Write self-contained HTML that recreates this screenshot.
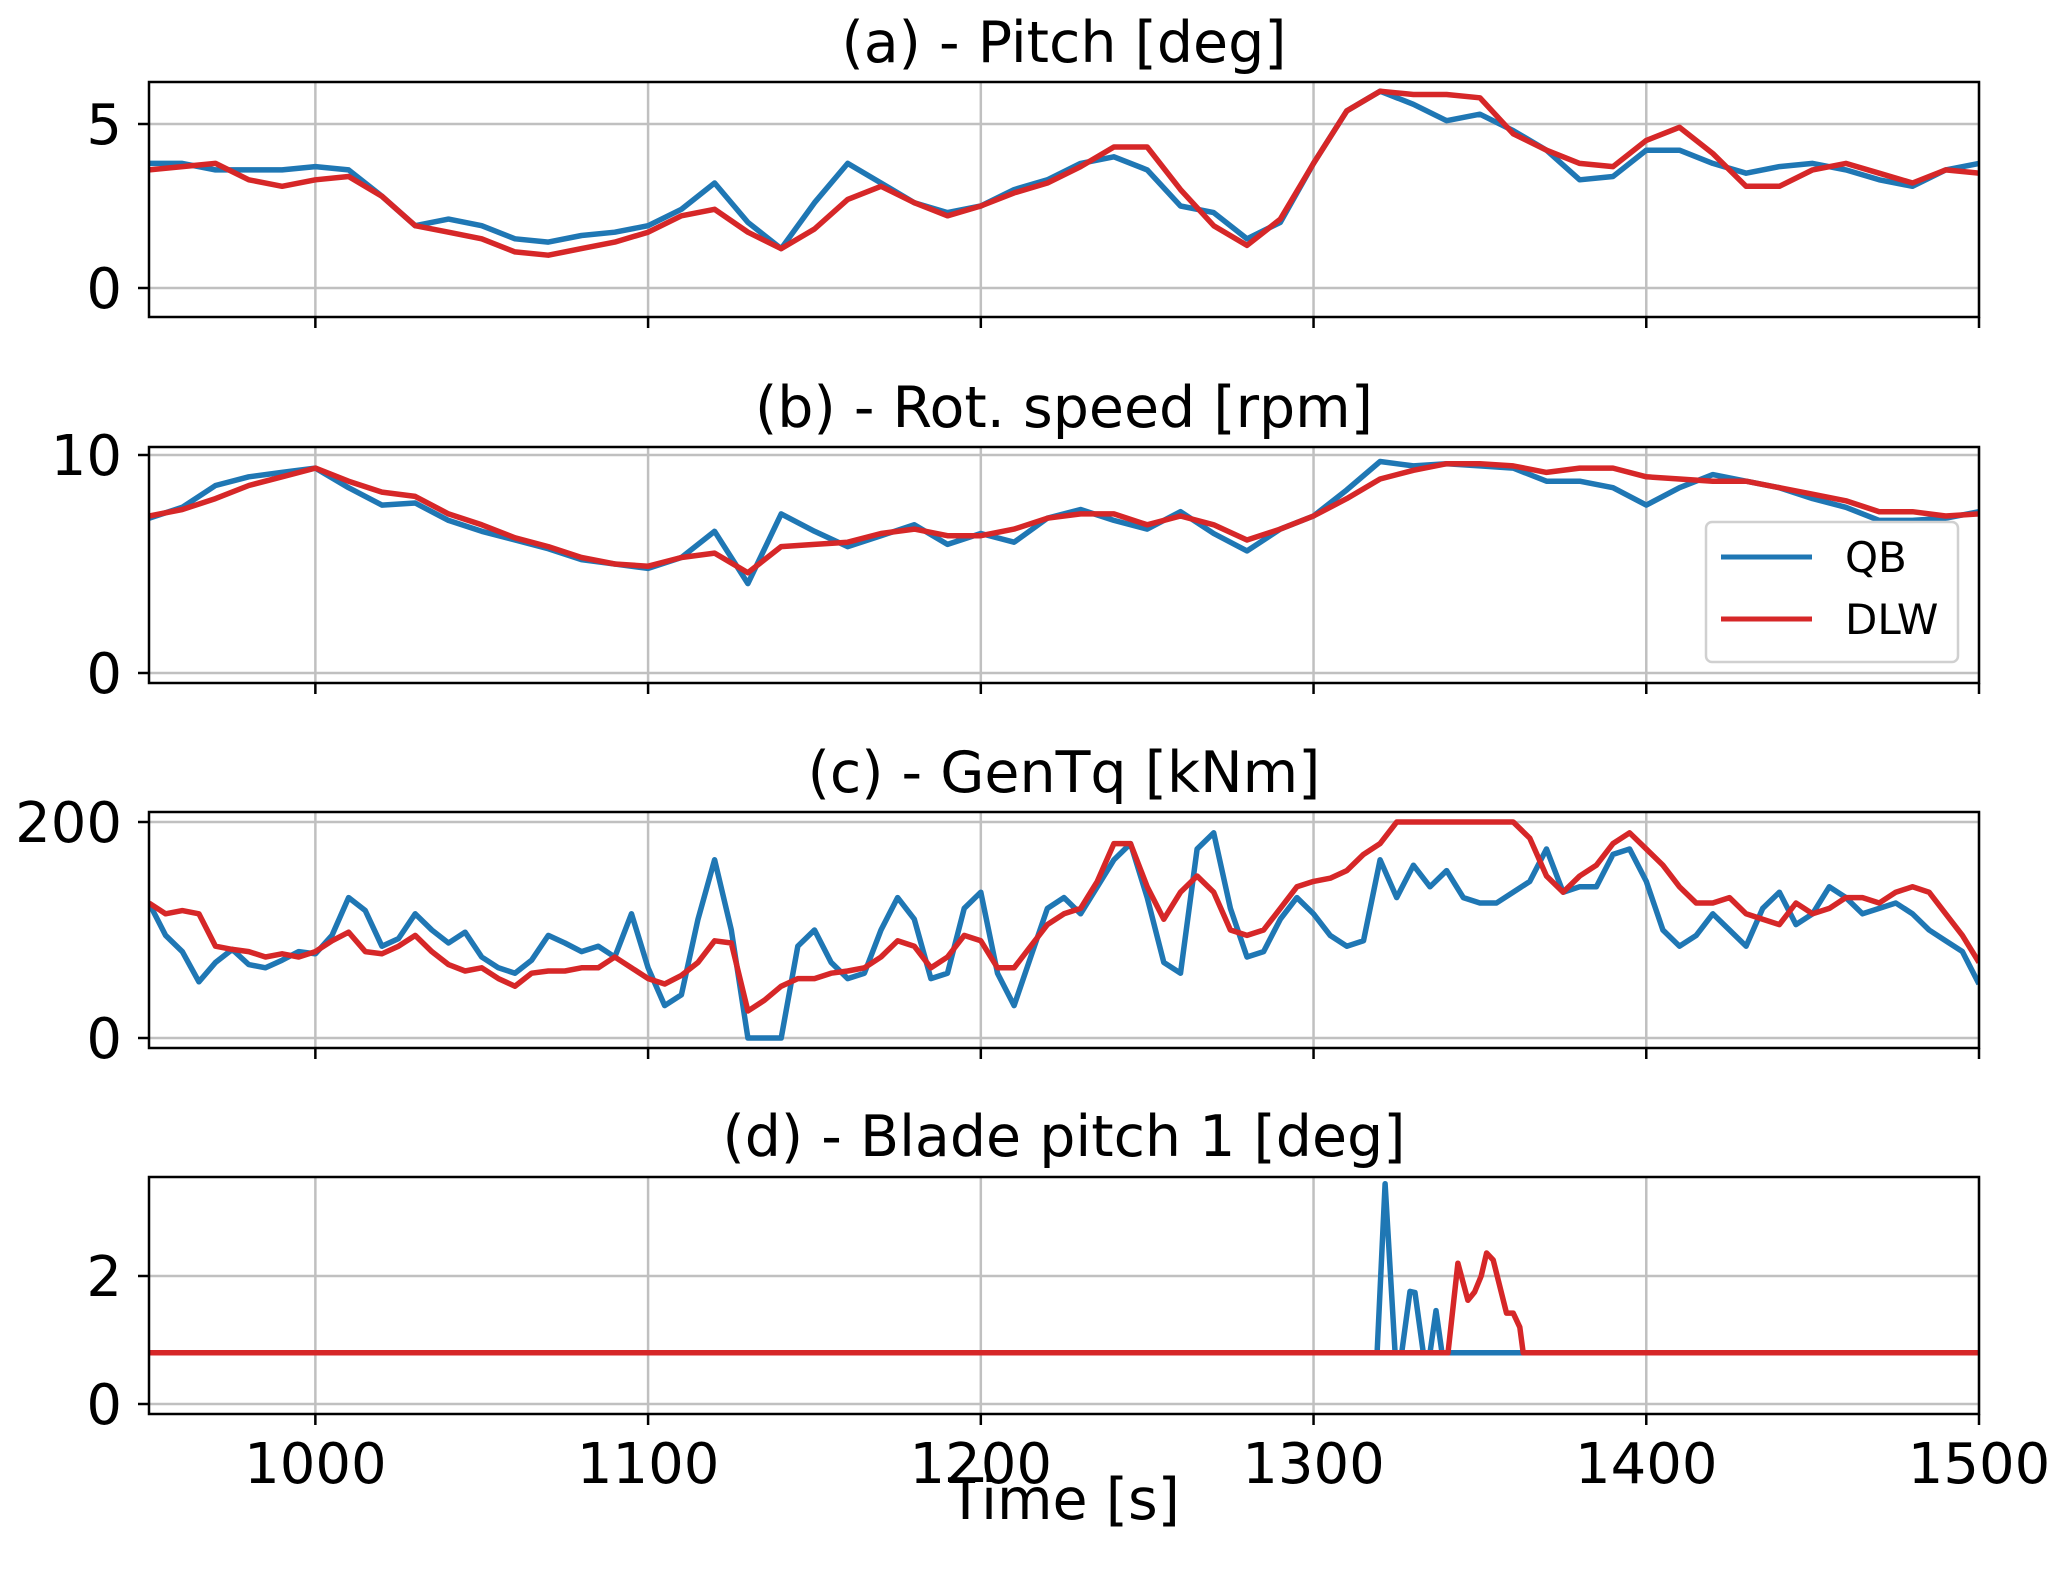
<!DOCTYPE html>
<html><head><meta charset="utf-8"><style>
html,body{margin:0;padding:0;background:#fff;}
svg{display:block;font-family:"DejaVu Sans","Liberation Sans",sans-serif;}
</style></head><body>
<svg id="fig" width="2067" height="1578" viewBox="0 0 2067 1578" xmlns="http://www.w3.org/2000/svg"></svg>
<script>
// ---- data ----
const pitchTime = [950,960,970,980,990,1000,1010,1020,1030,1040,1050,1060,1070,1080,1090,1100,1110,1120,1130,1140,1150,1160,1170,1180,1190,1200,1210,1220,1230,1240,1250,1260,1270,1280,1290,1300,1310,1320,1330,1340,1350,1360,1370,1380,1390,1400,1410,1420,1430,1440,1450,1460,1470,1480,1490,1500];
const pitchQB = [3.8,3.8,3.6,3.6,3.6,3.7,3.6,2.8,1.9,2.1,1.9,1.5,1.4,1.6,1.7,1.9,2.4,3.2,2.0,1.2,2.6,3.8,3.2,2.6,2.3,2.5,3.0,3.3,3.8,4.0,3.6,2.5,2.3,1.5,2.0,3.8,5.4,6.0,5.6,5.1,5.3,4.8,4.2,3.3,3.4,4.2,4.2,3.8,3.5,3.7,3.8,3.6,3.3,3.1,3.6,3.8];
const pitchDLW = [3.6,3.7,3.8,3.3,3.1,3.3,3.4,2.8,1.9,1.7,1.5,1.1,1.0,1.2,1.4,1.7,2.2,2.4,1.7,1.2,1.8,2.7,3.1,2.6,2.2,2.5,2.9,3.2,3.7,4.3,4.3,3.0,1.9,1.3,2.1,3.8,5.4,6.0,5.9,5.9,5.8,4.7,4.2,3.8,3.7,4.5,4.9,4.1,3.1,3.1,3.6,3.8,3.5,3.2,3.6,3.5];
const speedTime = pitchTime;
const speedQB = [7.1,7.6,8.6,9.0,9.2,9.4,8.5,7.7,7.8,7.0,6.5,6.1,5.7,5.2,5.0,4.8,5.3,6.5,4.1,7.3,6.5,5.8,6.3,6.8,5.9,6.4,6.0,7.1,7.5,7.0,6.6,7.4,6.4,5.6,6.6,7.2,8.4,9.7,9.5,9.6,9.5,9.4,8.8,8.8,8.5,7.7,8.5,9.1,8.8,8.5,8.0,7.6,7.0,7.0,7.1,7.4];
const speedDLW = [7.2,7.5,8.0,8.6,9.0,9.4,8.8,8.3,8.1,7.3,6.8,6.2,5.8,5.3,5.0,4.9,5.3,5.5,4.6,5.8,5.9,6.0,6.4,6.6,6.3,6.3,6.6,7.1,7.3,7.3,6.8,7.2,6.8,6.1,6.6,7.2,8.0,8.9,9.3,9.6,9.6,9.5,9.2,9.4,9.4,9.0,8.9,8.8,8.8,8.5,8.2,7.9,7.4,7.4,7.2,7.3];
const tqTime = [950,955,960,965,970,975,980,985,990,995,1000,1005,1010,1015,1020,1025,1030,1035,1040,1045,1050,1055,1060,1065,1070,1075,1080,1085,1090,1095,1100,1105,1110,1115,1120,1125,1130,1135,1140,1145,1150,1155,1160,1165,1170,1175,1180,1185,1190,1195,1200,1205,1210,1215,1220,1225,1230,1235,1240,1245,1250,1255,1260,1265,1270,1275,1280,1285,1290,1295,1300,1305,1310,1315,1320,1325,1330,1335,1340,1345,1350,1355,1360,1365,1370,1375,1380,1385,1390,1395,1400,1405,1410,1415,1420,1425,1430,1435,1440,1445,1450,1455,1460,1465,1470,1475,1480,1485,1490,1495,1500];
const tqQB = [125,95,80,52,70,82,68,65,72,80,78,95,130,118,85,92,115,100,88,98,75,65,60,72,95,88,80,85,75,115,65,30,40,110,165,100,0,0,0,85,100,70,55,60,100,130,110,55,60,120,135,60,30,75,120,130,115,140,165,180,130,70,60,175,190,120,75,80,110,130,115,95,85,90,165,130,160,140,155,130,125,125,135,145,175,135,140,140,170,175,145,100,85,95,115,100,85,120,135,105,115,140,130,115,120,125,115,100,90,80,50];
const tqDLW = [125,115,118,115,85,82,80,75,78,75,80,90,98,80,78,85,95,80,68,62,65,55,48,60,62,62,65,65,75,65,55,50,58,70,90,88,25,35,48,55,55,60,62,65,75,90,85,65,75,95,90,65,65,85,105,115,120,145,180,180,140,110,135,150,135,100,95,100,120,140,145,148,155,170,180,200,200,200,200,200,200,200,200,185,150,135,150,160,180,190,175,160,140,125,125,130,115,110,105,125,115,120,130,130,125,135,140,135,115,95,70];
const bladeQBTime = [950,1319.1,1321.5,1324.5,1326.5,1329,1330.5,1333,1335,1336.8,1338.6,1500];
const bladeQB = [0.8,0.8,3.44,0.8,0.8,1.76,1.74,0.8,0.8,1.46,0.8,0.8];
const bladeDLWTime = [950,1340.4,1343.4,1346.4,1348.4,1350.4,1352,1354,1358,1360,1362,1363,1500];
const bladeDLW = [0.8,0.8,2.2,1.62,1.75,2.0,2.36,2.25,1.42,1.42,1.2,0.8,0.8];
const xTicks = [1000,1100,1200,1300,1400,1500];

const NS = "http://www.w3.org/2000/svg";
const svg = document.getElementById('fig');
function el(tag, attrs, parent){const e=document.createElementNS(NS,tag);for(const k in attrs)e.setAttribute(k,attrs[k]);(parent||svg).appendChild(e);return e;}

const X0=149, X1=1979, T0=950, T1=1500;
const xs = t => X0 + (t-T0)*(X1-X0)/(T1-T0);
const TICKF=56, TITLEF=57;

const panels = [
 {key:'pitch', title:'(a) - Pitch [deg]', top:82, bot:317, v0:0, p0:288, v1:5, p1:124, yt:[0,5], ytl:['0','5'], series:[[pitchTime,pitchQB,'#1f77b4','qb'],[pitchTime,pitchDLW,'#d62728','dlw']], tb:62},
 {key:'rot-speed', title:'(b) - Rot. speed [rpm]', top:447, bot:683, v0:0, p0:673, v1:10, p1:455, yt:[0,10], ytl:['0','10'], series:[[speedTime,speedQB,'#1f77b4','qb'],[speedTime,speedDLW,'#d62728','dlw']], tb:427},
 {key:'gen-torque', title:'(c) - GenTq [kNm]', top:812, bot:1048, v0:0, p0:1038, v1:200, p1:822, yt:[0,200], ytl:['0','200'], series:[[tqTime,tqQB,'#1f77b4','qb'],[tqTime,tqDLW,'#d62728','dlw']], tb:792},
 {key:'blade-pitch', title:'(d) - Blade pitch 1 [deg]', top:1177, bot:1414, v0:0, p0:1404, v1:2, p1:1276, yt:[0,2], ytl:['0','2'], series:[[bladeQBTime,bladeQB,'#1f77b4','qb'],[bladeDLWTime,bladeDLW,'#d62728','dlw']], tb:1156, xlabels:true}
];

panels.forEach(p=>{
  const ys = v => p.p0 + (v-p.v0)*(p.p1-p.p0)/(p.v1-p.v0);
  const g = el('g',{});
  
  
  xTicks.forEach(t=>{
    const l=el('line',{x1:xs(t),x2:xs(t),y1:p.top,y2:p.bot,stroke:'#c0c0c0','stroke-width':2.5},g);
    
    
  });
  p.yt.forEach((v,i)=>{
    const l=el('line',{x1:X0,x2:X1,y1:ys(v),y2:ys(v),stroke:'#c0c0c0','stroke-width':2.5},g);
    
    
    const tk=el('line',{x1:X0-11,x2:X0,y1:ys(v),y2:ys(v),stroke:'#000','stroke-width':2.5},g);
    
    
    const tx=el('text',{x:X0-27,y:ys(v)+20,'text-anchor':'end','font-size':TICKF,fill:'#000'},g);
    tx.textContent=p.ytl[i];
    
    
  });
  const cp='clip-'+p.key;
  const cpe=el('clipPath',{id:cp},g); el('rect',{x:X0,y:p.top,width:X1-X0,height:p.bot-p.top},cpe);
  p.series.forEach(s=>{
    const [tt,vv,col,nm]=s; const n=Math.min(tt.length,vv.length);
    let d=''; for(let i=0;i<n;i++) d+=(i?'L':'M')+xs(tt[i]).toFixed(1)+','+ys(vv[i]).toFixed(1);
    const path=el('path',{d:d,fill:'none',stroke:col,'stroke-width':5.5,'stroke-linejoin':'round','clip-path':'url(#'+cp+')'},g);
    
    
  });
  const fr=el('rect',{x:X0,y:p.top,width:X1-X0,height:p.bot-p.top,fill:'none',stroke:'#000','stroke-width':2.5},g);
  
  
  xTicks.forEach(t=>{
    const tk=el('line',{x1:xs(t),x2:xs(t),y1:p.bot,y2:p.bot+11,stroke:'#000','stroke-width':2.5},g);
    
    
    if(p.xlabels){
      const tx=el('text',{x:xs(t),y:1483,'text-anchor':'middle','font-size':TICKF,fill:'#000'},g);
      tx.textContent=String(t);
      
      
    }
  });
  const ti=el('text',{x:(X0+X1)/2,y:p.tb,'text-anchor':'middle','font-size':TITLEF,fill:'#000'},g);
  ti.textContent=p.title;
  
  
});

const xl=el('text',{x:(X0+X1)/2,y:1519,'text-anchor':'middle','font-size':TITLEF,fill:'#000'});
xl.textContent='Time [s]';



const lg=el('g',{});


el('rect',{x:1706,y:522,width:252,height:140,rx:6,fill:'#fff','fill-opacity':0.85,stroke:'#d0d0d0','stroke-width':2.5},lg);
[['QB','#1f77b4',557],['DLW','#d62728',619]].forEach(e=>{
  const ln=el('line',{x1:1721,x2:1812,y1:e[2],y2:e[2],stroke:e[1],'stroke-width':5},lg);
  
  
  const tx=el('text',{x:1845,y:e[2]+15,'font-size':42,fill:'#000'},lg);
  tx.textContent=e[0];
  
  
});
</script>
</body></html>
